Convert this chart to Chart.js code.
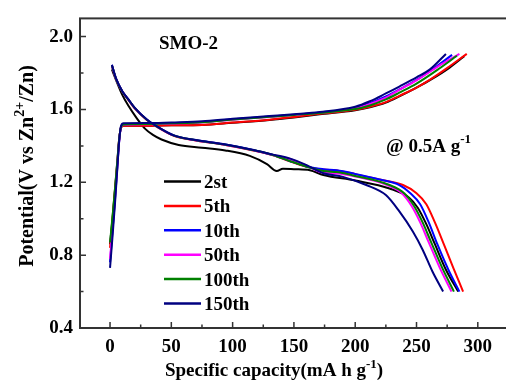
<!DOCTYPE html>
<html>
<head>
<meta charset="utf-8">
<script src="https://cdn.jsdelivr.net/npm/chart.js@4.4.0/dist/chart.umd.min.js"></script>
<style>
  html, body { margin: 0; padding: 0; background: #fff; }
  #wrap { width: 506px; height: 382px; }
</style>
</head>
<body>
<div id="wrap"><canvas id="capChart" width="506" height="382"></canvas></div>
<script>
// cycle names and line colours
const cycleLabels = ['2st', '5th', '10th', '50th', '100th', '150th'];
const cycleColors = ['#000000', '#ff0000', '#0000ff', '#ff00ff', '#008000', '#000080'];

// axis ticks
const xTicks = [0, 50, 100, 150, 200, 250, 300];
const xMinorTicks = [25, 75, 125, 175, 225, 275];
const yTicks = [0.4, 0.8, 1.2, 1.6, 2.0];
const yMinorTicks = [0.6, 1.0, 1.4, 1.8];

// charge curves [capacity mAh/g, potential V]
const charge2st = [[0,0.86],[2,1.0],[4,1.16],[6,1.32],[7.5,1.44],[9,1.5],[11,1.51],[30,1.511],[50,1.513],[75,1.515],[100,1.527],[130,1.542],[150,1.556],[171,1.573],[200,1.596],[212,1.612],[225,1.638],[236,1.672],[250,1.72],[262,1.765],[277,1.83],[289,1.893]];
const charge5th = [[0,0.84],[2,0.99],[4,1.15],[6,1.31],[7.5,1.44],[9,1.5],[11,1.51],[30,1.511],[50,1.513],[75,1.515],[100,1.528],[130,1.544],[150,1.558],[171,1.576],[200,1.598],[212,1.615],[225,1.64],[236,1.675],[250,1.72],[262,1.768],[277,1.837],[291,1.905]];
const charge10th = [[0,0.76],[2,0.93],[4,1.1],[6,1.29],[7.5,1.43],[9,1.505],[11,1.518],[30,1.52],[50,1.525],[75,1.531],[100,1.546],[130,1.561],[150,1.571],[171,1.584],[200,1.608],[212,1.635],[225,1.672],[236,1.71],[250,1.762],[265,1.83],[279,1.9]];
const charge50th = [[0,0.78],[2,0.94],[4,1.11],[6,1.3],[7.5,1.43],[9,1.505],[11,1.517],[30,1.519],[50,1.523],[75,1.529],[100,1.544],[130,1.559],[150,1.57],[171,1.582],[200,1.605],[212,1.63],[225,1.665],[236,1.708],[250,1.76],[268,1.838],[285,1.905]];
const charge100th = [[0,0.87],[2,1.01],[4,1.16],[6,1.32],[7.5,1.44],[9,1.505],[11,1.518],[30,1.52],[50,1.524],[75,1.53],[100,1.545],[130,1.56],[150,1.57],[171,1.581],[200,1.602],[212,1.622],[225,1.655],[236,1.692],[250,1.742],[268,1.822],[283,1.895]];
const charge150th = [[0,0.73],[2,0.9],[4,1.08],[6,1.28],[7.5,1.43],[9,1.51],[11,1.524],[30,1.525],[50,1.529],[75,1.535],[100,1.549],[130,1.564],[150,1.574],[171,1.586],[200,1.615],[212,1.645],[225,1.688],[236,1.726],[250,1.776],[261,1.82],[274,1.905]];

// discharge curves [capacity mAh/g, potential V]
const discharge2st = [[1.5,1.82],[5,1.76],[10,1.68],[15,1.62],[22,1.55],[28.5,1.495],[35,1.46],[42,1.435],[56,1.405],[75,1.39],[94,1.375],[114,1.345],[128,1.3],[136,1.262],[141,1.275],[150,1.272],[163,1.266],[174,1.24],[200,1.21],[228,1.166],[244,1.115],[251,1.06],[258,0.97],[265,0.86],[274,0.72],[284,0.6]];
const discharge5th = [[1.5,1.84],[5,1.765],[10,1.698],[15,1.652],[20,1.607],[30,1.542],[40,1.497],[52,1.455],[70,1.43],[92,1.407],[115,1.377],[133,1.348],[147,1.315],[160,1.286],[174,1.27],[185,1.265],[200,1.245],[220,1.215],[239,1.185],[250,1.14],[258,1.08],[265,0.98],[272,0.865],[280,0.73],[288,0.6]];
const discharge10th = [[1.5,1.845],[5,1.768],[10,1.7],[15,1.655],[20,1.61],[30,1.545],[40,1.5],[52,1.458],[70,1.432],[92,1.41],[115,1.38],[133,1.35],[147,1.316],[160,1.287],[174,1.272],[185,1.266],[200,1.246],[220,1.215],[236,1.185],[245,1.14],[253,1.08],[260,0.98],[267,0.86],[276,0.72],[285,0.6]];
const discharge50th = [[1.5,1.842],[5,1.766],[10,1.698],[15,1.653],[20,1.608],[30,1.543],[40,1.498],[52,1.456],[70,1.43],[92,1.408],[115,1.378],[133,1.35],[147,1.328],[160,1.292],[174,1.252],[185,1.248],[200,1.232],[226,1.185],[238,1.14],[246,1.07],[253,0.98],[260,0.87],[269,0.73],[278.5,0.6]];
const discharge100th = [[1.5,1.843],[5,1.767],[10,1.699],[15,1.654],[20,1.609],[30,1.544],[40,1.499],[52,1.457],[70,1.431],[92,1.409],[115,1.379],[133,1.35],[147,1.316],[160,1.287],[174,1.262],[185,1.256],[200,1.235],[228,1.185],[240,1.14],[248,1.07],[255,0.98],[262,0.87],[271,0.73],[280.5,0.6]];
const discharge150th = [[1.5,1.845],[5,1.768],[10,1.7],[15,1.655],[20,1.61],[30,1.545],[40,1.5],[52,1.458],[70,1.432],[92,1.41],[115,1.38],[133,1.352],[147,1.33],[160,1.295],[174,1.25],[190,1.23],[209,1.185],[225,1.13],[236,1.04],[247,0.93],[255,0.83],[263,0.71],[271.7,0.6]];

const chargeCurves = [charge2st, charge5th, charge10th, charge50th, charge100th, charge150th];
const dischargeCurves = [discharge2st, discharge5th, discharge10th, discharge50th, discharge100th, discharge150th];

const FONT = '"Liberation Serif", "Times New Roman", serif';

// text with superscript pieces, parts = [[text, isSup], ...]
function richWidth(ctx, parts, size, supSize) {
    let w = 0;
    parts.forEach(([t, sup]) => {
        ctx.font = 'bold ' + (sup ? supSize : size) + 'px ' + FONT;
        w += ctx.measureText(t).width;
    });
    return w;
}

function drawRich(ctx, parts, x, y, size, supSize, rise) {
    ctx.textBaseline = 'alphabetic';
    ctx.textAlign = 'left';
    parts.forEach(([t, sup]) => {
        ctx.font = 'bold ' + (sup ? supSize : size) + 'px ' + FONT;
        ctx.fillText(t, x, sup ? y - rise : y);
        x += ctx.measureText(t).width;
    });
}

// frame, inward tick marks, titles, notes and legend
const decorPlugin = {
    id: 'decor',
    afterDraw(chart) {
        const ctx = chart.ctx;
        const a = chart.chartArea;
        const xs = chart.scales.x;
        const ys = chart.scales.y;
        ctx.save();

        ctx.strokeStyle = '#333';
        ctx.lineWidth = 2;
        ctx.strokeRect(a.left, a.top, a.right - a.left + 2, a.bottom - a.top);

        ctx.lineWidth = 1.5;
        ctx.beginPath();
        xTicks.forEach(v => {
            const px = xs.getPixelForValue(v);
            ctx.moveTo(px, a.bottom); ctx.lineTo(px, a.bottom - 6);
        });
        xMinorTicks.forEach(v => {
            const px = xs.getPixelForValue(v);
            ctx.moveTo(px, a.bottom); ctx.lineTo(px, a.bottom - 3.5);
        });
        yTicks.forEach(v => {
            const py = ys.getPixelForValue(v);
            ctx.moveTo(a.left, py); ctx.lineTo(a.left + 6, py);
        });
        yMinorTicks.forEach(v => {
            const py = ys.getPixelForValue(v);
            ctx.moveTo(a.left, py); ctx.lineTo(a.left + 3.5, py);
        });
        ctx.stroke();

        ctx.fillStyle = '#000';

        // x title
        const xt = [['Specific capacity(mA h g', false], ['-1', true], [')', false]];
        const xw = richWidth(ctx, xt, 19, 13);
        drawRich(ctx, xt, 274 - xw / 2, 376, 19, 13, 8);

        // y title
        const yt = [['Potential(V vs Zn', false], ['2+', true], ['/Zn)', false]];
        const yw = richWidth(ctx, yt, 20, 14);
        ctx.save();
        ctx.translate(33, 166);
        ctx.rotate(-Math.PI / 2);
        drawRich(ctx, yt, -yw / 2, 0, 20, 14, 9);
        ctx.restore();

        // notes
        drawRich(ctx, [['SMO-2', false]], 159, 49, 19, 13, 8);
        drawRich(ctx, [['@ 0.5A g', false], ['-1', true]], 386, 152, 19, 13, 9);

        // legend
        cycleLabels.forEach((lab, i) => {
            const ly = 181.5 + i * 24.4;
            ctx.strokeStyle = cycleColors[i];
            ctx.lineWidth = 2.5;
            ctx.beginPath();
            ctx.moveTo(164, ly); ctx.lineTo(201, ly);
            ctx.stroke();
            ctx.fillStyle = '#000';
            drawRich(ctx, [[lab, false]], 204, ly + 6.5, 19, 13, 8);
        });

        ctx.restore();
    }
};

const datasets = [];
cycleLabels.forEach((lab, i) => {
    [chargeCurves[i], dischargeCurves[i]].forEach(curve => {
        datasets.push({
            label: lab,
            data: curve,
            borderColor: cycleColors[i],
            backgroundColor: cycleColors[i],
            borderWidth: 2,
            pointRadius: 0,
            fill: false,
            cubicInterpolationMode: 'monotone',
            order: cycleLabels.length - i
        });
    });
});

const tickFont = { family: FONT, size: 19, weight: 'bold' };

new Chart(document.getElementById('capChart'), {
    type: 'line',
    data: { datasets },
    options: {
        responsive: false,
        animation: false,
        layout: { padding: { top: 15, left: 0, right: 0, bottom: 0 } },
        plugins: {
            legend: { display: false },
            tooltip: { enabled: false }
        },
        scales: {
            x: {
                type: 'linear',
                min: -24.5,
                max: 323,
                afterBuildTicks: s => { s.ticks = xTicks.map(v => ({ value: v })); },
                afterFit: s => { s.height = 54; },
                grid: { display: false, drawTicks: false },
                border: { display: false },
                ticks: { font: tickFont, color: '#000', padding: 8, maxRotation: 0 }
            },
            y: {
                type: 'linear',
                min: 0.4,
                max: 2.1,
                afterBuildTicks: s => { s.ticks = yTicks.map(v => ({ value: v })); },
                afterFit: s => { s.width = 80; },
                grid: { display: false, drawTicks: false },
                border: { display: false },
                ticks: {
                    font: tickFont, color: '#000', padding: 7,
                    callback: v => Number(v).toFixed(1)
                }
            }
        }
    },
    plugins: [decorPlugin]
});
</script>
</body>
</html>
